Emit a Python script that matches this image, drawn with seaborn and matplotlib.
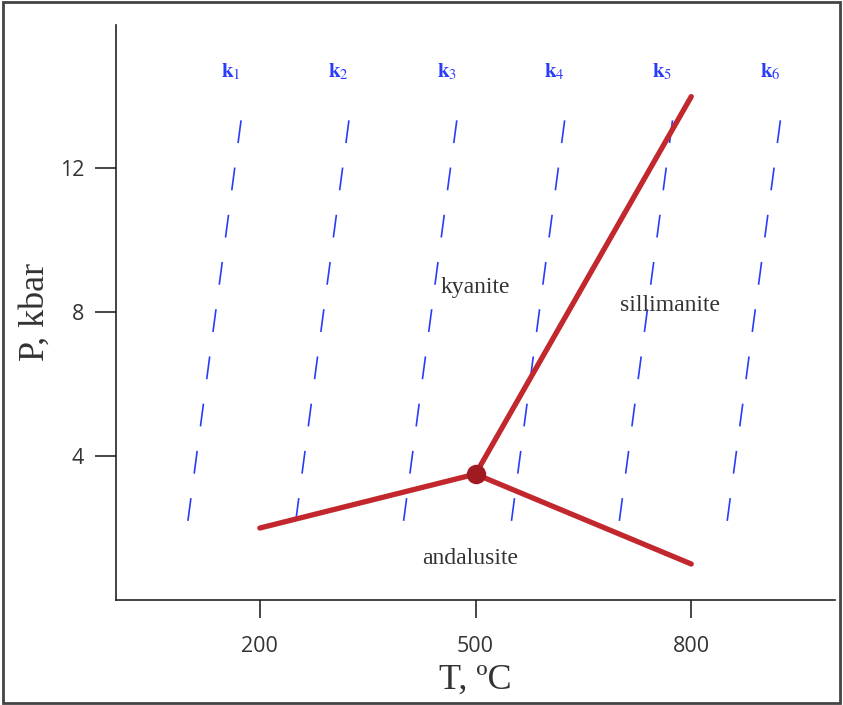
import matplotlib
matplotlib.use('Agg')
import matplotlib.pyplot as plt
import seaborn as sns
import pandas as pd
from matplotlib.patches import Rectangle

# phase boundaries (T in C, P in kbar), all meet at the triple point
triple_T, triple_P = 500, 3.5
ky_and_T = [200, 500]
ky_and_P = [2.0, 3.5]
and_sil_T = [500, 800]
and_sil_P = [3.5, 1.0]
ky_sil_T = [500, 800]
ky_sil_P = [3.5, 14.0]

# dashed k lines: bottom and top end points
k_names = ['1', '2', '3', '4', '5', '6']
k_bottom_T = [100, 250, 400, 550, 700, 850]
k_top_T = [175, 325, 475, 625, 775, 925]
k_bottom_P = 2.2
k_top_P = 13.5

region_names = ['kyanite', 'sillimanite', 'andalusite']
region_T = [500, 770, 493]
region_P = [8.7, 8.2, 1.15]

x_ticks = [200, 500, 800]
y_ticks = [4, 8, 12]

sns.set_style('white')
plt.rcParams['mathtext.fontset'] = 'stix'

fig = plt.figure(figsize=(8.43, 7.05), dpi=100)
ax = fig.add_axes([0.1376, 0.149, 0.853, 0.816])

red = '#c1272d'
blue = '#2a3cfa'

# k lines
rows = []
for name, t0, t1 in zip(k_names, k_bottom_T, k_top_T):
    rows.append({'k': name, 'T': t0, 'P': k_bottom_P})
    rows.append({'k': name, 'T': t1, 'P': k_top_P})
kdf = pd.DataFrame(rows)
klw = 1.2
for name, g in kdf.groupby('k'):
    sns.lineplot(data=g, x='T', y='P', ax=ax, color=blue, lw=klw, sort=False,
                 dashes=False, linestyle=(0, (16.5 / klw, 17.8 / klw)))
    ax.text(g['T'].iloc[1] - 15, 14.7, r'$\mathbf{k}_{' + name + '}$', color=blue,
            fontsize=15, ha='center', va='center')

# phase boundaries
for xs, ys in [(ky_and_T, ky_and_P), (and_sil_T, and_sil_P), (ky_sil_T, ky_sil_P)]:
    sns.lineplot(x=xs, y=ys, ax=ax, color=red, lw=3.8, sort=False)
ax.plot([triple_T], [triple_P], 'o', color='#a01a22', markersize=13, zorder=5)

for name, t, p in zip(region_names, region_T, region_P):
    ax.text(t, p, name, family='Liberation Serif', fontsize=17, color='#333333',
            ha='center', va='center')

ax.set_xlim(0, 1000)
ax.set_ylim(0, 16)
ax.set_xticks(x_ticks)
ax.set_yticks(y_ticks)
ax.tick_params(axis='x', direction='out', length=13, width=1.2, pad=13,
               labelsize=15.5, labelcolor='#333333', bottom=True)
ax.tick_params(axis='y', direction='out', length=15, width=1.2, pad=8,
               labelsize=15.5, labelcolor='#333333', left=True)
for lab in ax.get_xticklabels() + ax.get_yticklabels():
    lab.set_family('Open Sans')

for s in ['top', 'right']:
    ax.spines[s].set_visible(False)
for s in ['left', 'bottom']:
    ax.spines[s].set_color('#222222')
    ax.spines[s].set_linewidth(1.2)

ax.set_xlabel('T, ºC', family='Liberation Serif', fontsize=26, color='#333333', labelpad=5)
ax.set_ylabel('P, kbar', family='Liberation Serif', fontsize=26, color='#333333', labelpad=6)

# outer frame of the picture
fig.patches.append(Rectangle((0.003, 0.003), 0.994, 0.994, transform=fig.transFigure,
                             fill=False, edgecolor='#444444', lw=2))

fig.savefig('out.png', dpi=100)
